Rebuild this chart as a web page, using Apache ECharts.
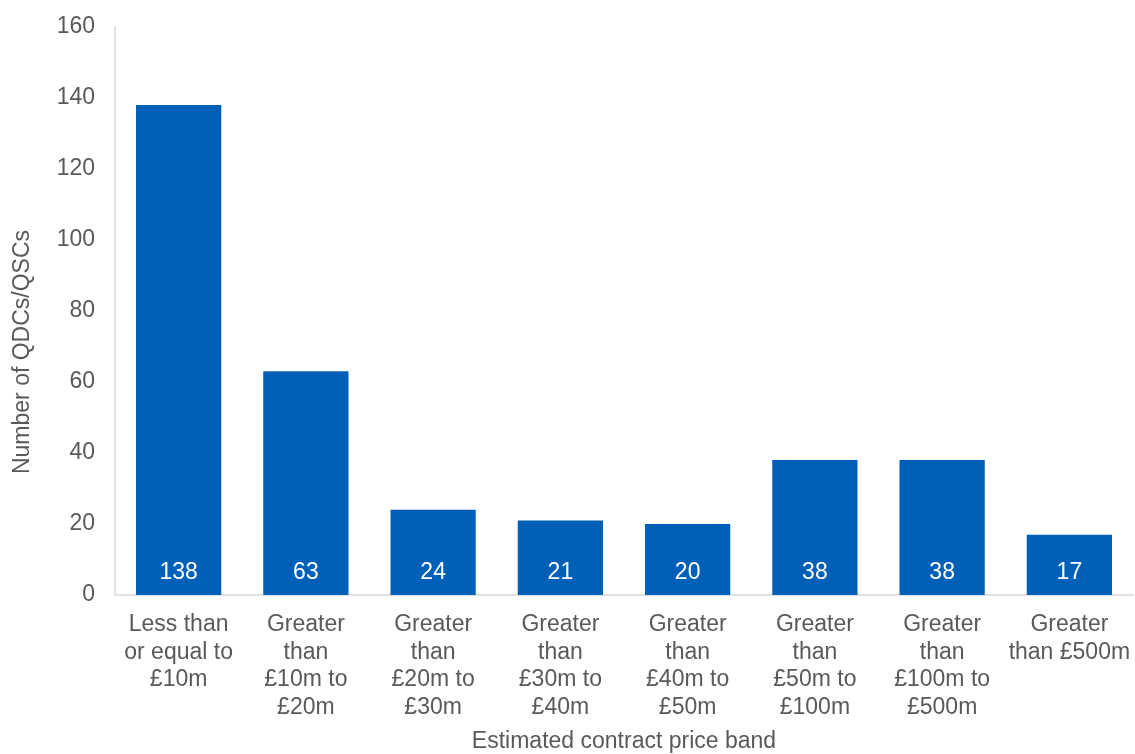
<!DOCTYPE html>
<html>
<head>
<meta charset="utf-8">
<script src="https://cdn.jsdelivr.net/npm/echarts@6/dist/echarts.min.js"></script>
<style>
  html, body { margin: 0; padding: 0; background: #fff; }
  #chart { width: 1135px; height: 754px; }
</style>
</head>
<body>
<div id="chart"></div>
<script>
// Price bands (category labels, pre-wrapped as shown on the axis)
const categories = [
  'Less than\nor equal to\n£10m',
  'Greater\nthan\n£10m to\n£20m',
  'Greater\nthan\n£20m to\n£30m',
  'Greater\nthan\n£30m to\n£40m',
  'Greater\nthan\n£40m to\n£50m',
  'Greater\nthan\n£50m to\n£100m',
  'Greater\nthan\n£100m to\n£500m',
  'Greater\nthan £500m'
];
// Number of QDCs/QSCs in each band
const counts = [138, 63, 24, 21, 20, 38, 38, 17];

const yTitle = 'Number of QDCs/QSCs';
const xTitle = 'Estimated contract price band';

const font = 'Liberation Sans, Arial, sans-serif';
const textGrey = '#595959';
const axisGrey = '#d9d9d9';
const fs = 23;

const chart = echarts.init(document.getElementById('chart'), null, { renderer: 'canvas' });
chart.setOption({
  animation: false,
  grid: {
    left: 115, right: 2, top: 27, bottom: 159,
    containLabel: false,
    outerBoundsMode: 'none'
  },
  xAxis: {
    type: 'category',
    data: categories,
    name: xTitle,
    nameLocation: 'middle',
    nameGap: 135,
    nameTextStyle: { fontFamily: font, fontSize: fs, color: textGrey },
    axisLine: { show: true, lineStyle: { color: axisGrey, width: 1.5 } },
    axisTick: { show: false },
    axisLabel: {
      interval: 0,
      margin: 16,
      fontFamily: font,
      fontSize: fs,
      lineHeight: 27.5,
      color: textGrey
    }
  },
  yAxis: {
    type: 'value',
    min: 0,
    max: 160,
    interval: 20,
    name: yTitle,
    nameLocation: 'middle',
    nameGap: 81,
    nameRotate: 90,
    nameTextStyle: {
      fontFamily: font, fontSize: fs, color: textGrey,
      // push the rotated title a little below the axis midpoint
      padding: [0, 82, 0, 0]
    },
    axisLine: { show: true, lineStyle: { color: axisGrey, width: 1.5 } },
    axisTick: { show: false },
    splitLine: { show: false },
    axisLabel: {
      margin: 20,
      fontFamily: font,
      fontSize: fs,
      color: textGrey
    }
  },
  series: [{
    type: 'bar',
    data: counts,
    barCategoryGap: '33%',
    itemStyle: { color: '#0060B8' },
    label: {
      show: true,
      position: 'insideBottom',
      distance: 11,
      color: '#ffffff',
      fontFamily: font,
      fontSize: fs
    }
  }]
});
</script>
</body>
</html>
